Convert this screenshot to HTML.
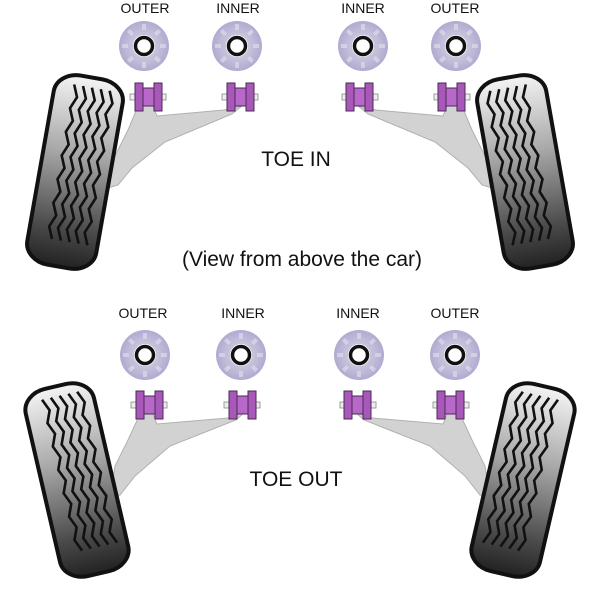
<!DOCTYPE html>
<html><head><meta charset="utf-8"><style>
html,body{margin:0;padding:0;background:#fff;}
svg{display:block}
text{font-family:"Liberation Sans",Arial,sans-serif;fill:#111}
</style></head><body>
<svg width="600" height="600" viewBox="0 0 600 600" xmlns="http://www.w3.org/2000/svg">
<defs>
<linearGradient id="tg" x1="0" y1="0" x2="0" y2="1">
<stop offset="0" stop-color="#f4f4f4"/><stop offset="0.4" stop-color="#a8a8a8"/><stop offset="0.8" stop-color="#4a4a4a"/><stop offset="1" stop-color="#222"/>
</linearGradient>
<radialGradient id="dg" cx="0.5" cy="0.5" r="0.5">
<stop offset="0" stop-color="#dcdae8"/><stop offset="1" stop-color="#b0abd0"/>
</radialGradient>
<g id="tire">
<rect x="-35" y="-96" width="70" height="192" rx="24" ry="20" fill="url(#tg)" stroke="#111" stroke-width="4"/>
<g fill="none" stroke="#111" stroke-width="2.6">
<path id="zz" d="M-16,-86 l5,12 l-5,12 l5,12 l-5,12 l5,12 l-5,12 l5,12 l-5,12 l5,12 l-5,12 l5,12 l-5,12 l5,12"/>
<use href="#zz" x="9" y="0"/><use href="#zz" x="18" y="0"/><use href="#zz" x="27" y="0"/><use href="#zz" x="36" y="0"/>
</g>
</g>
<g id="disc">
<circle r="25" fill="url(#dg)"/>
<g fill="#e4e2ee" opacity="0.6">
<rect x="-2" y="-22" width="4" height="6"/><rect x="-2" y="16" width="4" height="6"/>
<rect x="-22" y="-2" width="6" height="4"/><rect x="16" y="-2" width="6" height="4"/>
<rect x="-2" y="-22" width="4" height="6" transform="rotate(45)"/><rect x="-2" y="-22" width="4" height="6" transform="rotate(135)"/>
<rect x="-2" y="-22" width="4" height="6" transform="rotate(225)"/><rect x="-2" y="-22" width="4" height="6" transform="rotate(315)"/>
</g>
<circle r="11" fill="#fff"/><circle r="8.5" fill="none" stroke="#111" stroke-width="3.5"/>
</g>
<g id="bush">
<rect x="-16" y="-3" width="36" height="6" fill="#eee" stroke="#888" stroke-width="0.8"/>
<rect x="-11" y="-14" width="8" height="28" fill="#a858b8" stroke="#4a2a55" stroke-width="1"/>
<rect x="-3" y="-9" width="11" height="18" fill="#b868c8" stroke="#4a2a55" stroke-width="1"/>
<rect x="8" y="-14" width="8" height="28" fill="#a858b8" stroke="#4a2a55" stroke-width="1"/>
</g>
<g id="arm">
<path d="M138,106 L153,106 L157,116 L224,110 L242,106 L232,114 L165,142 L132,168 L118,185 L108,188 L113,160 L128,130 Z" fill="#d2d2d2" stroke="#b0b0b0" stroke-width="1"/>
</g>
<g id="quad">
<use href="#arm"/>
<use href="#tire" transform="translate(75,172) rotate(10)"/>
<use href="#disc" x="144" y="46"/><use href="#disc" x="237" y="46"/>
<use href="#bush" x="146" y="97"/><use href="#bush" x="238" y="97"/>
</g>
<g id="quadB">
<path d="M140,414 L153,414 L157,424 L228,418 L245,412 L236,420 L170,446 L135,476 L120,495 L110,497 L115,466 L128,440 Z" fill="#d2d2d2" stroke="#b0b0b0" stroke-width="1"/>
<use href="#tire" transform="translate(77,480) rotate(-13)"/>
<use href="#disc" x="145" y="355"/><use href="#disc" x="241" y="355"/>
<use href="#bush" x="147" y="405"/><use href="#bush" x="240" y="405"/>
</g>
</defs>
<use href="#quad"/>
<use href="#quad" transform="translate(600,0) scale(-1,1)"/>
<use href="#quadB"/>
<use href="#quadB" transform="translate(600,0) scale(-1,1)"/>
<g font-size="14" text-anchor="middle">
<text x="145" y="13">OUTER</text><text x="238" y="13">INNER</text>
<text x="363" y="13">INNER</text><text x="455" y="13">OUTER</text>
<text x="143" y="318">OUTER</text><text x="243" y="318">INNER</text>
<text x="358" y="318">INNER</text><text x="455" y="318">OUTER</text>
</g>
<g font-size="21" text-anchor="middle">
<text x="296" y="166">TOE IN</text>
<text x="302" y="266">(View from above the car)</text>
<text x="296" y="486">TOE OUT</text>
</g>
</svg>
</body></html>
